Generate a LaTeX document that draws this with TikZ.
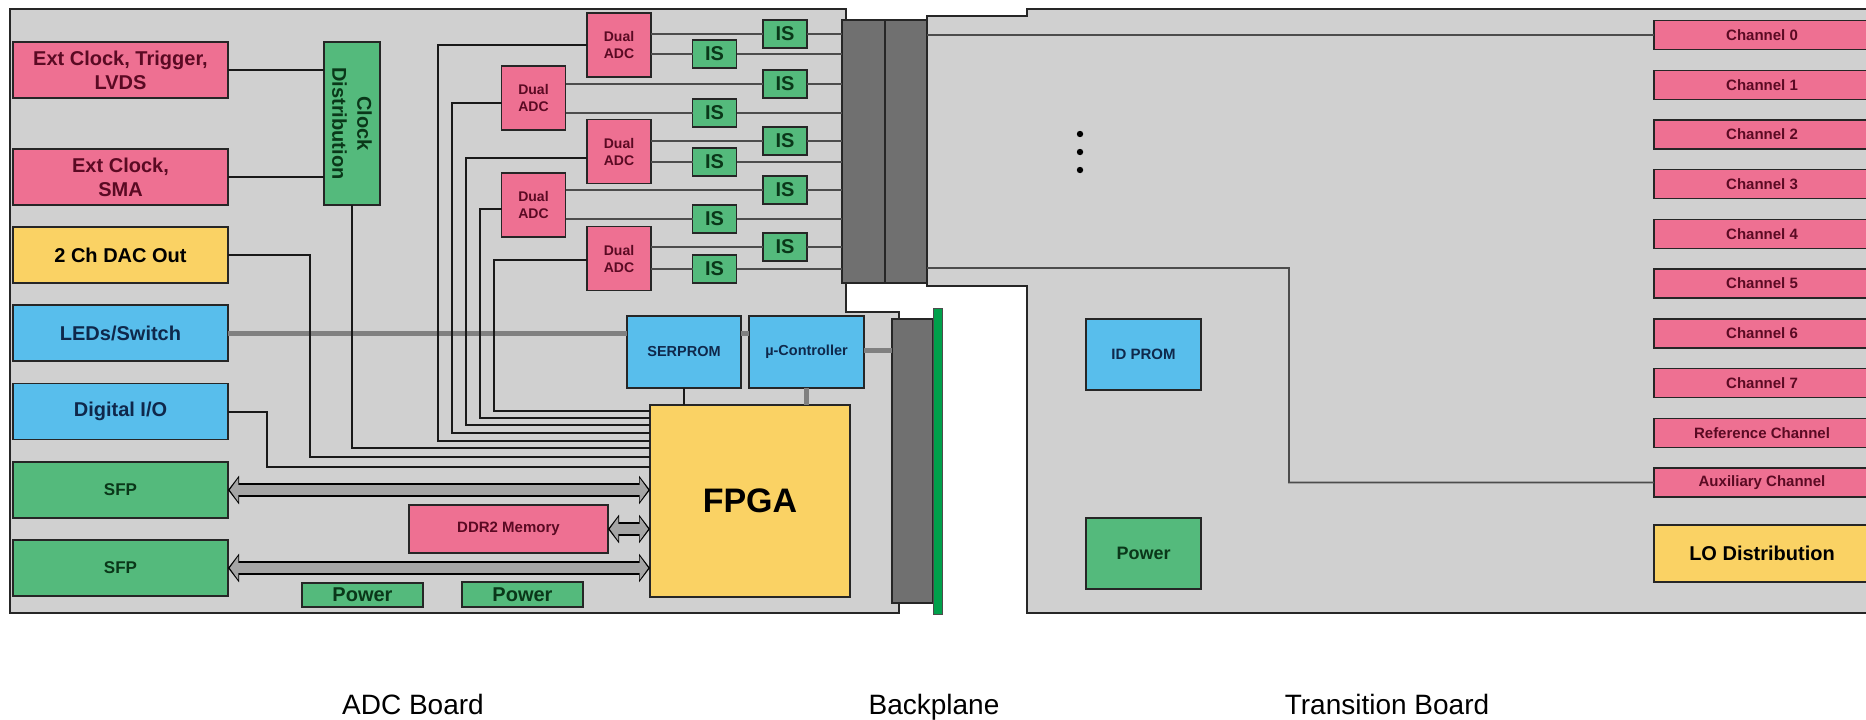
\documentclass[tikz,border=0pt]{standalone}
\usepackage{fontspec}
\setmainfont{Liberation Sans}
\usepackage{xcolor}
\usepackage{tikz}
\usetikzlibrary{calc, positioning, arrows.meta}

\definecolor{boardgray}{RGB}{208,208,208}
\definecolor{conngray}{RGB}{112,112,112}
\definecolor{pinkfill}{RGB}{238,112,146}
\definecolor{pinktext}{RGB}{90,10,35}
\definecolor{greenfill}{RGB}{84,186,124}
\definecolor{greentext}{RGB}{10,55,25}
\definecolor{bluefill}{RGB}{88,190,236}
\definecolor{bluetext}{RGB}{15,40,75}
\definecolor{yellowfill}{RGB}{250,210,100}
\definecolor{busgray}{RGB}{165,165,165}
\definecolor{stripgreen}{RGB}{0,160,75}

\begin{document}
\begin{tikzpicture}[x=1pt, y=-1pt, >=Stealth]
    \tikzset{
        blk/.style={draw=black!85, line width=1.4pt, inner sep=0pt, outer sep=0pt, align=center,
            font=\bfseries\fontsize{20}{24}\selectfont},
        pinkblk/.style={blk, fill=pinkfill, text=pinktext},
        greenblk/.style={blk, fill=greenfill, text=greentext},
        blueblk/.style={blk, fill=bluefill, text=bluetext},
        yellowblk/.style={blk, fill=yellowfill, text=black},
        sidebox/.style={minimum width=215pt, minimum height=56pt},
        adcbox/.style={pinkblk, minimum width=64pt, minimum height=64pt,
            font=\bfseries\fontsize{14}{17}\selectfont},
        isbox/.style={greenblk, minimum width=44pt, minimum height=28pt},
        chanbox/.style={pinkblk, minimum width=216pt, minimum height=29pt,
            font=\bfseries\fontsize{15}{17}\selectfont},
        conn/.style={draw=black!85, fill=conngray, line width=1.4pt, inner sep=0pt, outer sep=0pt},
        board/.style={fill=boardgray, draw=black!85, line width=2.5pt, line join=miter},
        sig/.style={draw=black!90, line width=2pt},
        thin sig/.style={draw=black!70, line width=1.8pt},
        gray bus/.style={draw=black!50, line width=5pt},
        bus/.style={draw=black, line width=14pt,
            {Triangle[length=11pt,width=28pt]}-{Triangle[length=11pt,width=28pt]},
            postaction={draw=busgray, line width=10.5pt,
                {Triangle[length=8.5pt,width=23pt]}-{Triangle[length=8.5pt,width=23pt]},
                shorten <=1.8pt, shorten >=1.8pt}},
        caption/.style={anchor=base, font=\fontsize{28}{32}\selectfont}
    }

    \useasboundingbox (0,0) rectangle (1866,720);

    \draw[board] (10,9) -- (846,9) -- (846,312) -- (899,312) -- (899,613) -- (10,613) -- cycle;
    \draw[board] (927,16) -- (1027,16) -- (1027,9) -- (1890,9) -- (1890,613) -- (1027,613) -- (1027,286) -- (927,286) -- cycle;

    \node[conn, minimum width=43pt, minimum height=263pt] (conA) at (863.5,151.5) {};
    \node[conn, minimum width=42pt, minimum height=263pt] (conB) at (906,151.5) {};
    \node[conn, minimum width=41pt, minimum height=284pt] (bp) at (912.5,461) {};
    \node[draw=black!70, fill=stripgreen, line width=1pt, inner sep=0pt, minimum width=9pt, minimum height=306pt] (strip) at (937.5,461) {};

    \node[pinkblk, sidebox] (extA) at (120.5,70) {Ext Clock, Trigger,\\LVDS};
    \node[pinkblk, sidebox] (extB) at (120.5,177) {Ext Clock,\\SMA};
    \node[yellowblk, sidebox] (dac) at (120.5,255) {2 Ch DAC Out};
    \node[blueblk, sidebox] (leds) at (120.5,333) {LEDs/Switch};
    \node[blueblk, sidebox] (dio) at (120.5,411.5) {Digital I/O};
    \node[greenblk, sidebox, font=\bfseries\fontsize{17}{20}\selectfont] (sfpA) at (120.5,490) {SFP};
    \node[greenblk, sidebox, font=\bfseries\fontsize{17}{20}\selectfont] (sfpB) at (120.5,568) {SFP};

    \node[greenblk, minimum width=56pt, minimum height=163pt] (clk) at (352,123.5) {};
    \node[rotate=-90, align=center, text=greentext, font=\bfseries\fontsize{20}{25}\selectfont] (clktxt) at (clk) {Clock\\Distribution};

    \foreach \i/\x/\y in {1/619/45, 2/533.5/98, 3/619/151.5, 4/533.5/205, 5/619/258.5}
        \node[adcbox] (adc\i) at (\x,\y) {Dual\\ADC};

    \foreach \k/\y in {a1/34, a2/84, a3/141, a4/190, a5/247}
        \node[isbox] (is\k) at (785,\y) {IS};
    \foreach \k/\y in {b1/54, b2/113, b3/162, b4/219, b5/269}
        \node[isbox] (is\k) at (714.5,\y) {IS};

    \node[blueblk, minimum width=114pt, minimum height=72pt, font=\bfseries\fontsize{14.5}{17}\selectfont] (serprom) at (684,352) {SERPROM};
    \node[blueblk, minimum width=115pt, minimum height=72pt, font=\bfseries\fontsize{14.5}{17}\selectfont] (uc) at (806.5,352) {µ-Controller};
    \node[yellowblk, minimum width=200pt, minimum height=192pt, font=\bfseries\fontsize{34}{40}\selectfont] (fpga) at (750,501) {FPGA};
    \node[pinkblk, minimum width=199pt, minimum height=48pt, font=\bfseries\fontsize{15}{17}\selectfont] (ddr) at (508.5,529) {DDR2 Memory};
    \node[greenblk, minimum width=121pt, minimum height=24pt] (powA) at (362.5,595) {Power};
    \node[greenblk, minimum width=121pt, minimum height=25pt] (powB) at (522.5,594.5) {Power};

    \node[blueblk, minimum width=115pt, minimum height=71pt, font=\bfseries\fontsize{15}{17}\selectfont] (idprom) at (1143.5,354.5) {ID PROM};
    \node[greenblk, minimum width=115pt, minimum height=71pt, font=\bfseries\fontsize{18}{20}\selectfont] (powT) at (1143.5,553.5) {Power};
    \foreach \d in {134,152,170}
        \fill (1080,\d) circle (3.2pt);

    \foreach \i/\lab in {0/Channel 0, 1/Channel 1, 2/Channel 2, 3/Channel 3, 4/Channel 4,
                         5/Channel 5, 6/Channel 6, 7/Channel 7, 8/Reference Channel, 9/Auxiliary Channel}
        \node[chanbox] (ch\i) at (1762,{35+49.72*\i}) {\lab};
    \node[yellowblk, minimum width=216pt, minimum height=57pt] (lo) at (1762,553.5) {LO Distribution};

    \draw[gray bus] (leds.east) -- (leds.east -| serprom.west)
        (leds.east -| serprom.east) -- (leds.east -| uc.west);
    \draw[gray bus] (uc.east |- 0,350) -- (bp.west |- 0,350);
    \draw[gray bus] (uc.south) -- (uc.south |- fpga.north);
    \draw[sig, line width=2.5pt] (serprom.south) -- (serprom.south |- fpga.north);

    \draw[sig] (extA.east) -- (extA.east -| clk.west);
    \draw[sig] (extB.east) -- (extB.east -| clk.west);
    \draw[sig] (clk.south) |- (352,448 -| fpga.west);
    \draw[sig] (dac.east) -| (310,457) -- (310,457 -| fpga.west);
    \draw[sig] (dio.east) -| (267,467) -- (267,467 -| fpga.west);
    \foreach \i/\dy/\x/\y in {1/0/438/441, 2/5/452/433, 3/6.5/466/425, 4/4/480/418, 5/1.5/494/411}
        \draw[sig] ([yshift=-\dy pt]adc\i.west) -| (\x,\y) -- (\x,\y -| fpga.west);

    \foreach \i/\k in {1/a1, 1/b1, 2/a2, 2/b2, 3/a3, 3/b3, 4/a4, 4/b4, 5/a5, 5/b5}
        \draw[thin sig] (adc\i.east |- is\k) -- (is\k) (is\k) -- (is\k -| conA.west);

    \draw[bus] (sfpA.east) -- (sfpA.east -| fpga.west);
    \draw[bus] (ddr.east) -- (ddr.east -| fpga.west);
    \draw[bus] (sfpB.east) -- (sfpB.east -| fpga.west);

    \coordinate (auxbend) at (1289,482.5);
    \draw[thin sig] (conB.east |- ch0) -- (ch0);
    \draw[thin sig] (conB.east |- 0,268) -| (auxbend) -- (ch9);

    \node[caption] (adclab) at (413,714) {ADC Board};
    \node[caption] (bplab) at (934,714) {Backplane};
    \node[caption] (tblab) at (1387,714) {Transition Board};

\end{tikzpicture}
\end{document}
